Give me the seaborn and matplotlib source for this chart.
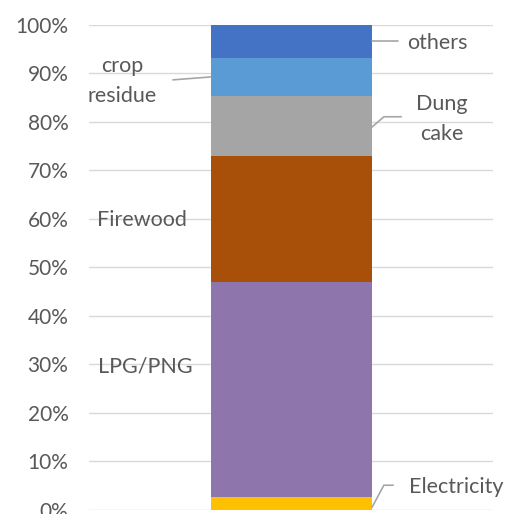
import matplotlib
matplotlib.use("Agg")
import matplotlib.pyplot as plt
import seaborn as sns
import numpy as np

# ======== DATA ========
sources = ["Electricity", "LPG/PNG", "Firewood", "Dung\ncake", "crop\nresidue", "others"]
shares = [2.6, 44.3, 26.0, 12.3, 8.0, 6.8]
colors = ["#FFC000", "#8E75AB", "#A8500A", "#A5A5A5", "#5B9BD5", "#4472C4"]
yticks = list(range(0, 101, 10))

TEXT = "#595959"

sns.set_theme(style="white")
plt.rcParams["font.family"] = ["Lato", "DejaVu Sans"]

fig = plt.figure(figsize=(5.06, 5.14), dpi=100)
ax = fig.add_axes([0.1765, 0.0078, 0.7985, 0.9445])

# stacked single bar
bottom = 0.0
for src, val, col in zip(sources, shares, colors):
    sns.barplot(x=[""], y=[val], bottom=bottom, color=col, width=0.4,
                saturation=1, linewidth=0, edgecolor="none", ax=ax, zorder=3)
    bottom += val

ax.set_xlim(-0.5, 0.5)
ax.set_ylim(0, 100)
ax.set_yticks(yticks)
ax.set_yticklabels([f"{t}%" for t in yticks], color=TEXT, fontsize=15)
ax.set_xticks([])
ax.set_xlabel("")
ax.set_ylabel("")
ax.tick_params(axis="y", length=0, pad=15)
ax.yaxis.grid(True, color="#D9D9D9", linewidth=1, zorder=0)
for s in ax.spines.values():
    s.set_visible(False)

# ======== DATA LABELS with leader lines ========
lab = dict(color=TEXT, fontsize=15.5, va="center", linespacing=1.6)
lead = dict(color="#A6A6A6", linewidth=1.2, zorder=4, clip_on=False)

# others
ax.plot([0.2, 0.264], [96.6, 96.6], **lead)
ax.text(0.287, 96.2, sources[5], ha="left", **lab)
# crop residue
ax.plot([-0.293, -0.2], [88.6, 89.2], **lead)
ax.text(-0.419, 88.4, sources[4], ha="center", **lab)
# dung cake
ax.plot([0.2, 0.229, 0.272], [78.9, 81.0, 81.0], **lead)
ax.text(0.373, 80.5, sources[3], ha="center", **lab)
# firewood
ax.text(-0.37, 59.7, sources[2], ha="center", **lab)
# LPG/PNG
ax.text(-0.362, 29.5, sources[1], ha="center", **lab)
# electricity
ax.plot([0.2, 0.229, 0.252], [0.6, 5.1, 5.1], **lead)
ax.text(0.291, 4.7, sources[0], ha="left", **lab)

fig.savefig("out.png", dpi=100)
